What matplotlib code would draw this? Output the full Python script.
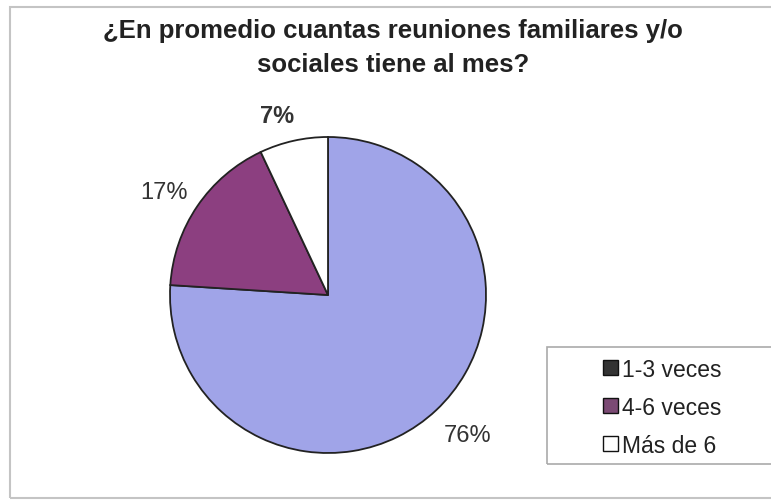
import matplotlib
matplotlib.use("Agg")
import matplotlib.pyplot as plt
from matplotlib.patches import Rectangle, Patch
import numpy as np

categories = ["1-3 veces", "4-6 veces", "Más de 6"]
values = [76, 17, 7]
pct_labels = ["76%", "17%", "7%"]
slice_colors = ["#a0a4e8", "#8c3f80", "#ffffff"]
legend_colors = ["#333333", "#7b4a74", "#ffffff"]
title_lines = ["¿En promedio cuantas reuniones familiares y/o",
               "sociales tiene al mes?"]

W, H = 771, 502
plt.rcParams["font.family"] = ["Liberation Sans", "DejaVu Sans"]
fig = plt.figure(figsize=(W / 100, H / 100), dpi=100)
fig.patch.set_facecolor("white")

# outer chart border
fig.add_artist(Rectangle((10 / W, 1 - 499 / H), (W + 20) / W, 491 / H,
                         transform=fig.transFigure, fill=False,
                         edgecolor="#c4c4c4", linewidth=1.5))

for line, yb in zip(title_lines, [38, 72]):
    fig.text(393 / W, 1 - yb / H, line, ha="center", va="baseline",
             fontsize=18.5, fontweight="bold", color="#222222")

# pie axes
cx, cy, r = 328, 296, 158
ax = fig.add_axes([(cx - r) / W, (H - cy - r) / H, 2 * r / W, 2 * r / H])
wedges, _ = ax.pie(values, colors=slice_colors, startangle=90, counterclock=False,
                   radius=1, wedgeprops=dict(edgecolor="#222222", linewidth=1.3))
ax.set_xlim(-1, 1)
ax.set_ylim(-1, 1)
ax.set_aspect("equal")
ax.axis("off")

# percentage labels just outside each slice
dists = [1.25, 1.225, 1.18]
shifts = [1.6, 2.1, 3.3]
weights = ["normal", "normal", "bold"]
for w, lab, d, s, fw in zip(wedges, pct_labels, dists, shifts, weights):
    mid = np.deg2rad((w.theta1 + w.theta2) / 2 + s)
    ax.text(d * np.cos(mid), d * np.sin(mid), lab, ha="center", va="center",
            fontsize=17, fontweight=fw, color="#333333", clip_on=False)

# legend box
fig.add_artist(Rectangle((547 / W, 1 - 465 / H), 240 / W, 117 / H,
                         transform=fig.transFigure, fill=False,
                         edgecolor="#aaaaaa", linewidth=1.2))
handles = [Patch(facecolor=c, edgecolor="#111111", linewidth=1.0) for c in legend_colors]
fig.legend(handles, categories, loc="upper left",
           bbox_to_anchor=(582 / W, 1 - 338 / H), frameon=False,
           fontsize=16.5, handlelength=0.65, handleheight=0.65,
           handletextpad=0.2, labelspacing=0.66, labelcolor="#222222")

fig.savefig("out.png", dpi=100)
